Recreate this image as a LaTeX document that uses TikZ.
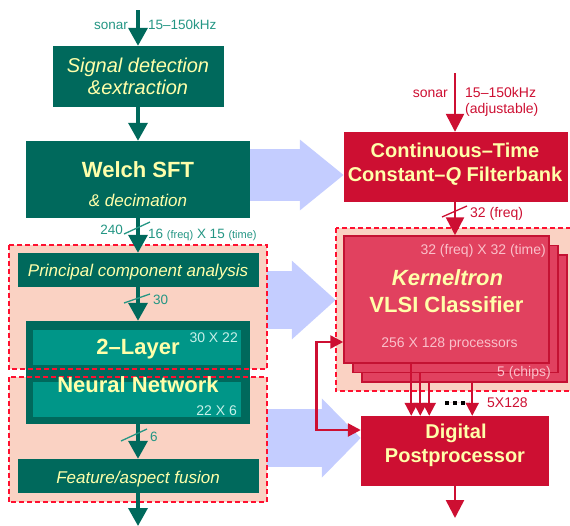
\documentclass[tikz,border=0pt]{standalone}
\usepackage{fontspec}
\setmainfont{Liberation Sans}
\usetikzlibrary{positioning,arrows.meta}

\definecolor{tealdark}{RGB}{0,105,92}
\definecolor{tealmid}{RGB}{0,150,136}
\definecolor{teallabel}{RGB}{36,150,132}
\definecolor{tealpale}{RGB}{200,240,232}
\definecolor{creamtext}{RGB}{255,255,170}
\definecolor{redbox}{RGB}{205,15,50}
\definecolor{chipfill}{RGB}{225,65,95}
\definecolor{chipedge}{RGB}{196,18,50}
\definecolor{chiptext}{RGB}{250,192,202}
\definecolor{regionfill}{RGB}{250,210,195}
\definecolor{dashred}{RGB}{255,16,48}
\definecolor{bigblue}{RGB}{196,205,255}

\newcommand{\setfs}[2]{\fontsize{#1}{#2}\selectfont}

\begin{document}
\begin{tikzpicture}[
  x=1pt, y=-1pt,
  tealbox/.style={fill=tealdark, inner sep=0pt},
  innerbox/.style={fill=tealmid, inner sep=0pt, minimum width=208pt, minimum height=35pt},
  redbox/.style={fill=redbox, inner sep=0pt},
  chip/.style={fill=chipfill, draw=chipedge, line width=1.5pt, inner sep=0pt,
               minimum width=205pt, minimum height=127pt},
  region/.style={fill=regionfill, inner sep=0pt},
  regionedge/.style={draw=dashred, line width=1.8pt, dash pattern=on 5pt off 3pt},
  bigarrow/.style n args={3}{draw=bigblue, line width=#1,
               -{Triangle[length=#2, width=#3]}},
  flowteal/.style={draw=tealdark, line width=3.5pt, -{Triangle[length=18pt, width=19pt]}},
  flowred/.style={draw=redbox, line width=2.5pt, -{Triangle[length=18pt, width=18pt]}},
  tapred/.style={draw=redbox, line width=2pt, -{Triangle[length=13pt, width=13pt]}},
  slashteal/.style={draw=teallabel, line width=1.3pt},
  slashred/.style={draw=redbox, line width=1.3pt},
  boxtext/.style={anchor=base, inner sep=0pt, text=creamtext},
  tealnote/.style={anchor=base, inner sep=0pt, text=teallabel, font=\setfs{13.5}{16}},
  rednote/.style={anchor=base, inner sep=0pt, text=redbox, font=\setfs{14}{17}},
  chipnote/.style={anchor=base, inner sep=0pt, text=chiptext, font=\setfs{14}{17}},
  nnnote/.style={anchor=base east, inner sep=0pt, text=tealpale, font=\setfs{14}{17}}
]
  \useasboundingbox (0,0) rectangle (570,525);

  % shaded groups
  \node[region, minimum width=258pt, minimum height=124pt] (upreg)   at (138,307)   {};
  \node[region, minimum width=258pt, minimum height=125pt] (lowreg)  at (138,439.5) {};
  \node[region, minimum width=238pt, minimum height=163pt] (chipreg) at (455,309.5) {};

  % left chain
  \node[tealbox, minimum width=171pt, minimum height=61pt]  (signal) at (138,76.5)  {};
  \node[tealbox, minimum width=224pt, minimum height=77pt]  (welch)  at (138,179.5) {};
  \node[tealbox, minimum width=241pt, minimum height=34pt]  (pca)    at (138,270)   {};
  \node[tealbox, minimum width=224pt, minimum height=103pt] (nn)     at (138,372.5) {};
  \node[innerbox] (nnA) at (137,347.5) {};
  \node[innerbox] (nnB) at (137,399.5) {};
  \node[tealbox, minimum width=241pt, minimum height=34pt]  (fusion) at (138,476)   {};

  % right chain
  \node[redbox, minimum width=224pt, minimum height=70pt] (filter) at (456,167) {};
  \node[chip] (chipC) at (464.5,318.5) {};
  \node[chip] (chipB) at (455.5,309)   {};
  \node[chip] (chipA) at (446.5,299.5) {};
  \node[redbox, minimum width=188pt, minimum height=70pt] (post) at (455,451) {};

  % wide transfer arrows
  \draw[bigarrow={52pt}{44pt}{68pt}] ([yshift=4.5pt]welch.east) coordinate (b1) -- (b1 -| filter.west);
  \draw[bigarrow={58pt}{44pt}{76pt}] ([yshift=7pt]upreg.east) coordinate (b2) -- (b2 -| chipreg.west);
  \draw[bigarrow={58pt}{39pt}{77pt}] ([yshift=1.5pt]lowreg.east) coordinate (b3) -- (b3 -| post.west);

  \draw[regionedge] (upreg.north west) rectangle (upreg.south east);
  \draw[regionedge] (lowreg.north west) rectangle (lowreg.south east);
  \draw[regionedge] (chipreg.north west) rectangle (chipreg.south east);

  % signal flow
  \coordinate (sonarL) at (138,10);
  \coordinate (outL)   at (138,526);
  \draw[flowteal] (sonarL) -- (signal.north);
  \draw[flowteal] (signal.south) -- (welch.north);
  \draw[flowteal] (welch.south) -- (pca.north);
  \draw[flowteal] (pca.south) -- (nn.north);
  \draw[flowteal] (nn.south) -- (fusion.north);
  \draw[flowteal] (fusion.south) -- (outL);

  \coordinate (sonarR) at (455,73);
  \coordinate (outR)   at (455,518);
  \draw[flowred] (sonarR) -- (sonarR |- filter.north);
  \draw[flowred] (sonarR |- filter.south) -- (sonarR |- chipA.north);
  \draw[flowred] (post.south) -- (outR);

  \draw[tapred] ([xshift=68pt]chipA.south west) coordinate (t1) -- (t1 |- post.north);
  \draw[tapred] ([xshift=68pt]chipB.south west) coordinate (t2) -- (t2 |- post.north);
  \draw[tapred] ([xshift=68pt]chipC.south west) coordinate (t3) -- (t3 |- post.north);
  \draw[tapred] ([xshift=111pt]chipC.south west) coordinate (t4) -- (t4 |- post.north);
  \draw[redbox, line width=4pt, dash pattern=on 4pt off 4pt] (445,402.5) -- (469,402.5);

  \draw[draw=redbox, line width=2.5pt,
        {Triangle[length=13pt, width=13pt]}-{Triangle[length=13pt, width=13pt]}]
    ([yshift=-42.5pt]chipA.west) -- ++(-27,0) |- ([yshift=21pt]post.west);

  % bus widths
  \draw[slashteal] (124,234) -- (150,222);
  \draw[slashteal] (124,303) -- (150,294);
  \draw[slashteal] (121,441) -- (147,429);
  \draw[slashred]  (442,217) -- (467,206);

  % texts, left
  \node[tealnote, anchor=base east] (sonarLtxt) at (128,29) {sonar};
  \node[tealnote, anchor=base west] (bandLtxt)  at (148,29) {15–150kHz};
  \node[boxtext, font=\itshape\setfs{20}{22}] (sig1) at (138,72) {Signal detection};
  \node[boxtext, font=\itshape\setfs{20}{22}] (sig2) at (138,94) {\&extraction};
  \node[boxtext, font=\bfseries\setfs{22}{26}] (welch1) at (138,177) {Welch SFT};
  \node[boxtext, font=\itshape\setfs{17}{20}] (welch2) at (138,206) {\& decimation};
  \node[tealnote, anchor=base east] (n240) at (123,234) {240};
  \node[tealnote, anchor=base west] (nfreq) at (148,238)
    {16 {\setfs{11}{13}(freq)} X 15 {\setfs{11}{13}(time)}};
  \node[boxtext, font=\itshape\setfs{17}{20}] (pcatxt) at (138,276) {Principal component analysis};
  \node[tealnote, anchor=base west] (n30) at (153,304) {30};
  \node[boxtext, font=\bfseries\setfs{22}{26}] (nn1) at (138,354) {2–Layer};
  \node[nnnote] (nnAtxt) at (238,342) {30 X 22};
  \node[boxtext, font=\bfseries\setfs{22}{26}] (nn2) at (138,392) {Neural Network};
  \node[nnnote] (nnBtxt) at (237,415) {22 X 6};
  \node[tealnote, anchor=base west] (n6) at (150,441) {6};
  \node[boxtext, font=\itshape\setfs{17}{20}] (fustxt) at (138,483) {Feature/aspect fusion};

  % texts, right
  \node[rednote, anchor=base east] (sonarRtxt) at (448,97)  {sonar};
  \node[rednote, anchor=base west] (bandRtxt)  at (465,97)  {15–150kHz};
  \node[rednote, anchor=base west] (adjtxt)    at (465,113) {(adjustable)};
  \node[boxtext, font=\bfseries\setfs{20}{24}] (fil1) at (455,157) {Continuous–Time};
  \node[boxtext, font=\bfseries\setfs{20}{24}] (fil2) at (455,181) {Constant–\textit{Q} Filterbank};
  \node[rednote, anchor=base west] (n32) at (470,217) {32 (freq)};
  \node[chipnote, anchor=base east] (chipdim) at (546,254) {32 (freq) X 32 (time)};
  \node[boxtext, font=\bfseries\itshape\setfs{22}{26}] (chip1) at (447.5,285) {Kerneltron};
  \node[boxtext, font=\bfseries\setfs{22}{26}] (chip2) at (446.5,312) {VLSI Classifier};
  \node[chipnote] (chipproc) at (449.5,347) {256 X 128 processors};
  \node[chipnote, anchor=base east] (chipnum) at (551,376) {5 (chips)};
  \node[rednote, anchor=base west] (n5x128) at (487,407) {5X128};
  \node[boxtext, font=\bfseries\setfs{20}{24}] (post1) at (456,438) {Digital};
  \node[boxtext, font=\bfseries\setfs{20}{24}] (post2) at (455,462) {Postprocessor};
\end{tikzpicture}
\end{document}
